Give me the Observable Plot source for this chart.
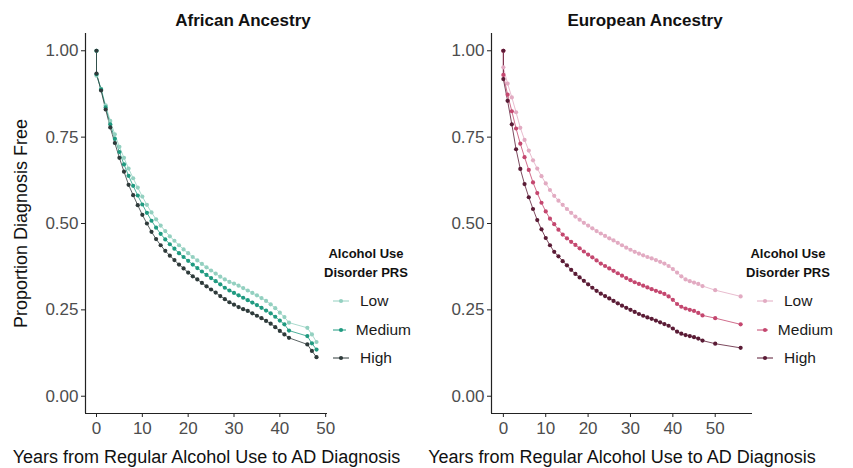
<!DOCTYPE html>
<html>
<head>
<meta charset="utf-8">
<script src="https://cdn.jsdelivr.net/npm/d3@7"></script>
<script src="https://cdn.jsdelivr.net/npm/@observablehq/plot@0.6"></script>
<style>
  body { margin: 0; background: #fff; font-family: "Liberation Sans", Arial, sans-serif; }
  #wrap { position: relative; width: 853px; height: 468px; overflow: hidden; }
  .panel { position: absolute; top: 0; }
  .title { position: absolute; top: 11px; font-weight: bold; font-size: 17px; color: #111;
           transform: translateX(-50%); white-space: nowrap; }
  .legend { position: absolute; top: 244px; width: 90px; }
  .legend .ltitle { font-weight: bold; font-size: 13px; line-height: 19px; color: #111; text-align: center; }
  .legend .items { margin-top: 5px; }
  .legend .item { display: flex; align-items: center; height: 28.5px; font-size: 15.5px; color: #1a1a1a; }
  .legend svg { margin-right: 10px; }
</style>
</head>
<body>
<div id="wrap"></div>
<script>
// Kaplan–Meier style "diagnosis free" curves by alcohol use disorder polygenic risk score (PRS)
const prsLevels = ["Low", "Medium", "High"];

// African ancestry
const afrYears = [0, 0, 1, 2, 3, 4, 5, 6, 7, 8, 9, 10, 11, 12, 13, 14, 15, 16, 17, 18, 19, 20,
  21, 22, 23, 24, 25, 26, 27, 28, 29, 30, 31, 32, 33, 34, 35, 36, 37, 38, 39, 40, 41, 42, 46, 47, 48];
const afrLow = [1.000, 0.928, 0.890, 0.842, 0.797, 0.758, 0.722, 0.690, 0.659, 0.631, 0.604, 0.578,
  0.554, 0.532, 0.512, 0.494, 0.478, 0.463, 0.450, 0.437, 0.425, 0.414,
  0.403, 0.393, 0.383, 0.373, 0.364, 0.355, 0.346, 0.338, 0.331, 0.326,
  0.320, 0.313, 0.306, 0.299, 0.292, 0.284, 0.276, 0.266, 0.255, 0.242,
  0.229, 0.213, 0.198, 0.179, 0.157];
const afrMedium = [1.000, 0.932, 0.888, 0.836, 0.787, 0.745, 0.707, 0.671, 0.638, 0.609, 0.581, 0.555,
  0.531, 0.508, 0.488, 0.470, 0.454, 0.440, 0.427, 0.414, 0.403, 0.392,
  0.381, 0.371, 0.361, 0.351, 0.342, 0.333, 0.324, 0.314, 0.306, 0.299,
  0.292, 0.285, 0.278, 0.271, 0.264, 0.256, 0.248, 0.240, 0.230, 0.219,
  0.208, 0.190, 0.174, 0.153, 0.135];
const afrHigh = [1.000, 0.934, 0.885, 0.830, 0.778, 0.733, 0.690, 0.650, 0.612, 0.582, 0.553, 0.525,
  0.500, 0.476, 0.455, 0.437, 0.421, 0.407, 0.394, 0.381, 0.370, 0.358,
  0.347, 0.338, 0.328, 0.318, 0.309, 0.300, 0.290, 0.281, 0.272, 0.265,
  0.258, 0.252, 0.247, 0.240, 0.233, 0.226, 0.218, 0.210, 0.200, 0.189,
  0.179, 0.169, 0.150, 0.131, 0.113];
const afrColors = ["#93d0c0", "#1f9a80", "#2e3a3a"];

// European ancestry
const eurYears = [0, 0, 1, 2, 3, 4, 5, 6, 7, 8, 9, 10, 11, 12, 13, 14, 15, 16, 17, 18, 19, 20,
  21, 22, 23, 24, 25, 26, 27, 28, 29, 30, 31, 32, 33, 34, 35, 36, 37, 38, 39, 40,
  41, 42, 43, 44, 45, 46, 47, 50, 56];
const eurLow = [1.000, 0.952, 0.905, 0.865, 0.822, 0.777, 0.742, 0.711, 0.683, 0.659, 0.637, 0.616,
  0.597, 0.580, 0.566, 0.554, 0.542, 0.531, 0.520, 0.511, 0.502, 0.494,
  0.486, 0.478, 0.471, 0.464, 0.457, 0.451, 0.444, 0.437, 0.430, 0.424,
  0.418, 0.413, 0.408, 0.403, 0.399, 0.394, 0.389, 0.384, 0.377, 0.368,
  0.358, 0.347, 0.338, 0.333, 0.329, 0.325, 0.319, 0.307, 0.289];
const eurMedium = [1.000, 0.930, 0.873, 0.825, 0.775, 0.731, 0.692, 0.655, 0.619, 0.588, 0.560, 0.535,
  0.514, 0.498, 0.482, 0.468, 0.457, 0.447, 0.438, 0.428, 0.419, 0.410,
  0.402, 0.393, 0.384, 0.377, 0.370, 0.363, 0.356, 0.349, 0.342, 0.336,
  0.330, 0.325, 0.320, 0.315, 0.310, 0.305, 0.301, 0.296, 0.289, 0.279,
  0.267, 0.259, 0.254, 0.250, 0.247, 0.241, 0.234, 0.226, 0.208];
const eurHigh = [1.000, 0.918, 0.855, 0.787, 0.715, 0.658, 0.614, 0.576, 0.542, 0.510, 0.483, 0.458,
  0.437, 0.418, 0.405, 0.391, 0.379, 0.366, 0.354, 0.344, 0.334, 0.324,
  0.314, 0.305, 0.297, 0.290, 0.283, 0.276, 0.269, 0.262, 0.256, 0.250,
  0.244, 0.238, 0.233, 0.228, 0.224, 0.219, 0.214, 0.209, 0.204, 0.196,
  0.187, 0.181, 0.177, 0.174, 0.171, 0.167, 0.161, 0.152, 0.140];
const eurColors = ["#e2abc2", "#c4476f", "#5a1b35"];

const xTicks = [0, 10, 20, 30, 40, 50];
const yTicks = [0, 0.25, 0.5, 0.75, 1];
const xLabel = "Years from Regular Alcohol Use to AD Diagnosis";
const yLabel = "Proportion Diagnosis Free";
const legendTitle = ["Alcohol Use", "Disorder PRS"];

function survivalPanel({years, series, colors, width, marginLeft, marginRight, showYLabel}) {
  const rows = prsLevels.flatMap((level, i) =>
    years.map((t, j) => ({t, v: series[i][j], prs: level})));
  const xMax = d3.max(years);
  const xDomain = [-0.05 * xMax, xMax * 1.05];
  const yDomain = [-0.05, 1.05];
  const svg = Plot.plot({
    width, height: 468,
    marginLeft, marginRight, marginTop: 33, marginBottom: 55,
    style: {fontFamily: "Liberation Sans, Arial, sans-serif", fontSize: "17px", color: "#4d4d4d", background: "transparent"},
    x: {domain: xDomain, ticks: xTicks, tickFormat: d3.format("d"), tickSize: 4, tickPadding: 4,
        label: xLabel, labelAnchor: "center", labelOffset: 49},
    y: {domain: yDomain, ticks: yTicks, tickFormat: d3.format(".2f"), tickSize: 4, tickPadding: 3,
        label: showYLabel ? yLabel : null, labelAnchor: "center", labelOffset: 71},
    color: {domain: prsLevels, range: colors},
    marks: [
      Plot.ruleX([xDomain[0]], {stroke: "#222", strokeWidth: 1.2}),
      Plot.ruleY([yDomain[0]], {stroke: "#222", strokeWidth: 1.2}),
      Plot.line(rows, {x: "t", y: "v", z: "prs", stroke: "prs", strokeWidth: 0.8}),
      Plot.dot(rows, {x: "t", y: "v", fill: "prs", r: 2.1})
    ]
  });
  // axis titles: plain text, black, slightly larger than tick labels
  svg.querySelectorAll("text").forEach((el) => {
    const s = el.textContent.trim();
    for (const label of [xLabel, yLabel]) {
      if (s.includes(label)) {
        el.textContent = label;
        el.setAttribute("fill", "#111");
        el.style.fontSize = "18px";
      }
    }
  });
  svg.querySelectorAll("g[aria-label='x-axis tick'], g[aria-label='y-axis tick']").forEach((g) => {
    g.setAttribute("stroke", "#222");
  });
  return svg;
}

function legend(colors, left, swatchIndent) {
  const box = document.createElement("div");
  box.className = "legend";
  box.style.left = left + "px";
  const t = document.createElement("div");
  t.className = "ltitle";
  t.innerHTML = legendTitle.join("<br>");
  box.appendChild(t);
  const items = document.createElement("div");
  items.className = "items";
  items.style.paddingLeft = swatchIndent + "px";
  prsLevels.forEach((level, i) => {
    const row = document.createElement("div");
    row.className = "item";
    const ns = "http://www.w3.org/2000/svg";
    const sw = document.createElementNS(ns, "svg");
    sw.setAttribute("width", 18); sw.setAttribute("height", 10);
    const ln = document.createElementNS(ns, "line");
    ln.setAttribute("x1", 1); ln.setAttribute("x2", 17); ln.setAttribute("y1", 5); ln.setAttribute("y2", 5);
    ln.setAttribute("stroke", colors[i]); ln.setAttribute("stroke-width", 1);
    const c = document.createElementNS(ns, "circle");
    c.setAttribute("cx", 9); c.setAttribute("cy", 5); c.setAttribute("r", 2.1); c.setAttribute("fill", colors[i]);
    sw.appendChild(ln); sw.appendChild(c);
    row.appendChild(sw);
    row.appendChild(document.createTextNode(level));
    items.appendChild(row);
  });
  box.appendChild(items);
  return box;
}

function title(text, center) {
  const d = document.createElement("div");
  d.className = "title";
  d.style.left = center + "px";
  d.textContent = text;
  return d;
}

const wrap = document.getElementById("wrap");

const left = survivalPanel({years: afrYears, series: [afrLow, afrMedium, afrHigh], colors: afrColors,
  width: 430, marginLeft: 85, marginRight: 103, showYLabel: true});
left.classList.add("panel");
left.style.left = "0px";
wrap.appendChild(left);

const right = survivalPanel({years: eurYears, series: [eurLow, eurMedium, eurHigh], colors: eurColors,
  width: 433, marginLeft: 71, marginRight: 101, showYLabel: false});
right.classList.add("panel");
right.style.left = "420px";
wrap.appendChild(right);

wrap.appendChild(title("African Ancestry", 243));
wrap.appendChild(title("European Ancestry", 645));
wrap.appendChild(legend(afrColors, 321, 11));
wrap.appendChild(legend(eurColors, 743, 13));
</script>
</body>
</html>
